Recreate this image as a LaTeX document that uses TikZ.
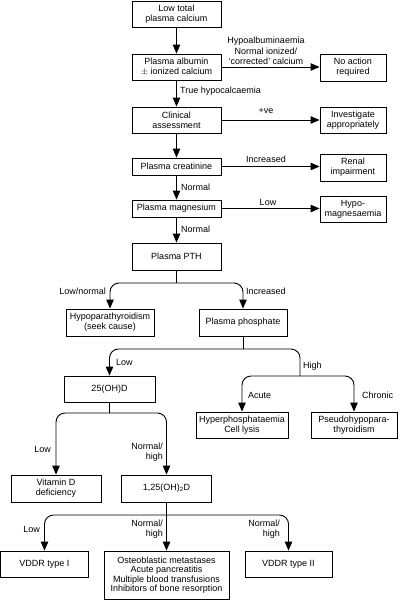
\documentclass[tikz,border=0pt]{standalone}
\usepackage{fontspec}
\setmainfont{Liberation Sans}
\usetikzlibrary{arrows.meta}
\begin{document}
\begin{tikzpicture}[x=1pt,y=-1pt,
  box/.style={draw, line width=0.9pt, inner sep=0pt, align=center, font=\fontsize{9}{10}\selectfont},
  lbl/.style={inner sep=0pt, align=center, font=\fontsize{9}{10.5}\selectfont},
  arr/.style={line width=0.9pt, -{Triangle[length=9pt,width=7.5pt]}},
  ln/.style={line width=0.9pt},
  rc/.style={rounded corners=9pt}]
\useasboundingbox (0,0) rectangle (404,600);
% boxes
\node[box, minimum width=89pt, minimum height=26pt] (n1) at (176.5,14) {Low total\\plasma calcium};
\node[box, minimum width=89pt, minimum height=26pt] (alb) at (176.5,67) {Plasma albumin\\$\pm$ ionized calcium};
\node[box, minimum width=66pt, minimum height=27pt] (noact) at (353,67.5) {No action\\required};
\node[box, minimum width=89pt, minimum height=26pt] (clin) at (176.5,120) {Clinical\\assessment};
\node[box, minimum width=66pt, minimum height=26pt] (inv) at (353,120) {Investigate\\appropriately};
\node[box, minimum width=89pt, minimum height=17pt] (creat) at (176.5,166.5) {Plasma creatinine};
\node[box, minimum width=66pt, minimum height=27pt] (renal) at (353,167.5) {Renal\\impairment};
\node[box, minimum width=89pt, minimum height=17pt] (mag) at (176.5,208.5) {Plasma magnesium};
\node[box, minimum width=66pt, minimum height=26pt] (hypomag) at (353,209) {Hypo-\\magnesaemia};
\node[box, minimum width=89pt, minimum height=27pt] (pth) at (176.5,256.5) {Plasma PTH};
\node[box, minimum width=88pt, minimum height=27pt] (hypopara) at (110,322.5) {Hypoparathyroidism\\(seek cause)};
\node[box, minimum width=88pt, minimum height=27pt] (phos) at (243,322.5) {Plasma phosphate};
\node[box, minimum width=91pt, minimum height=26pt] (ohd) at (109.5,389) {25(OH)D};
\node[box, minimum width=92pt, minimum height=26pt] (hyperph) at (242,425) {Hyperphosphataemia\\Cell lysis};
\node[box, minimum width=86pt, minimum height=26pt] (pseudo) at (354,425) {Pseudohypopara-\\thyroidism};
\node[box, minimum width=90pt, minimum height=27pt] (vitd) at (56,488.5) {Vitamin D\\deficiency};
\node[box, minimum width=90pt, minimum height=27pt] (dihyd) at (166.5,488.5) {1,25(OH)\textsubscript{2}D};
\node[box, minimum width=88pt, minimum height=26pt] (vddr1) at (44.5,564) {VDDR type I};
\node[box, minimum width=125pt, minimum height=48pt, font=\fontsize{9}{9.4}\selectfont] (mid) at (166.5,575) {Osteoblastic metastases\\Acute pancreatitis\\Multiple blood transfusions\\Inhibitors of bone resorption};
\node[box, minimum width=87pt, minimum height=26pt] (vddr2) at (288.5,564) {VDDR type II};
% junctions
\coordinate (j1) at (176.5,283);
\coordinate (j2) at (243,349);
\coordinate (j3) at (300,376);
\coordinate (j4) at (109.5,413);
\coordinate (j5) at (166.5,515);
% main column
\draw[arr] (n1) -- (alb);
\draw[arr] (alb) -- (clin);
\draw[arr] (clin) -- (creat);
\draw[arr] (creat) -- (mag);
\draw[arr] (mag) -- (pth);
% side arrows
\draw[arr] (alb.east) -- (alb.east -| noact.west);
\draw[arr] (clin.east) -- (clin.east -| inv.west);
\draw[arr] (creat.east) -- (creat.east -| renal.west);
\draw[arr] (mag.east) -- (mag.east -| hypomag.west);
% PTH branch
\draw[ln] (pth.south) -- (j1);
\draw[arr, rc] (j1) -| (hypopara.north);
\draw[arr, rc] (j1) -| (phos.north);
% phosphate branch
\draw[ln] (phos.south) -- (j2);
\draw[arr, rc] (j2) -| (ohd.north);
\draw[ln, rc] (j2) -| (j3);
\draw[arr, rc] (j3) -| (hyperph.north);
\draw[arr, rc] (j3) -| (pseudo.north);
% 25(OH)D branch
\draw[ln] (ohd.south) -- (j4);
\draw[arr, rc] (j4) -| (vitd.north);
\draw[arr, rc] (j4) -| (dihyd.north);
% 1,25 branch
\draw[ln] (dihyd.south) -- (j5);
\draw[arr, rc] (j5) -| (vddr1.north);
\draw[arr] (j5) -- (mid.north);
\draw[arr, rc] (j5) -| (vddr2.north);
% labels
\node[lbl] (l1) at (266,51) {Hypoalbuminaemia\\Normal ionized/\\‘corrected’ calcium};
\node[lbl, anchor=west] (l2) at (180,91) {True hypocalcaemia};
\node[lbl] (l3) at (266,111) {+ve};
\node[lbl] (l4) at (266,159) {Increased};
\node[lbl, anchor=west] (l5) at (181,187) {Normal};
\node[lbl] (l6) at (268,202) {Low};
\node[lbl, anchor=west] (l7) at (181,229) {Normal};
\node[lbl, anchor=east] (l8) at (106,291) {Low/normal};
\node[lbl, anchor=west] (l9) at (246,291) {Increased};
\node[lbl, anchor=west] (l10) at (116,362) {Low};
\node[lbl, anchor=west] (l11) at (303,366) {High};
\node[lbl, anchor=west] (l12) at (248,395) {Acute};
\node[lbl, anchor=west] (l13) at (362,395) {Chronic};
\node[lbl, anchor=east] (l14) at (51,449) {Low};
\node[lbl, anchor=east, align=right] (l15) at (163,452) {Normal/\\high};
\node[lbl, anchor=east] (l16) at (40,529) {Low};
\node[lbl, anchor=east, align=right] (l17) at (163,529) {Normal/\\high};
\node[lbl, anchor=east, align=right] (l18) at (280,529) {Normal/\\high};
\end{tikzpicture}
\end{document}
